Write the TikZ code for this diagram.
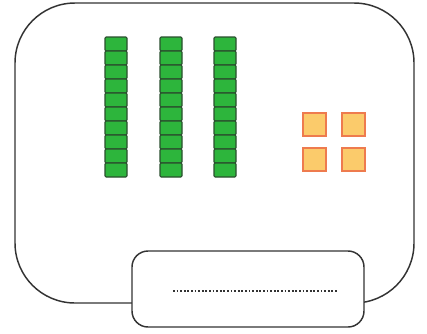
\documentclass[tikz,border=0pt]{standalone}
\usepackage{tikz}
\usepackage{xcolor}
\definecolor{slotgreen}{HTML}{2DB53C}
\definecolor{slotedge}{HTML}{2A4F2E}
\definecolor{padfill}{HTML}{FBCB6B}
\definecolor{padedge}{HTML}{EE7B4E}
\definecolor{caseedge}{HTML}{333333}
\begin{document}
\begin{tikzpicture}[x=0.75pt,y=-0.75pt]
		\tikzstyle{casing}=[draw=caseedge, line width=1.1pt]
		\tikzstyle{slot}=[draw=slotedge, fill=slotgreen, line width=0.8pt, rounded corners=0.8pt]
		\tikzstyle{pad}=[draw=padedge, fill=padfill, line width=0.9pt]
		\useasboundingbox (0,0) rectangle (427,333);
		\draw [casing, rounded corners=45] (15,3) rectangle (414,303);
		\draw [casing, fill=white, rounded corners=12] (132,251) rectangle (364,327);
		\draw [caseedge, line width=1.3pt, dash pattern=on 1.3pt off 1.4pt] (173,291) -- (338,291);
		\foreach \x in {105,160,214}
			\foreach \i in {0,...,9}
				\draw [slot] (\x,37+14*\i) rectangle (\x+22,51+14*\i);
		\foreach \x in {303,342}
			\foreach \y in {113,148}
				\draw [pad] (\x,\y) rectangle (\x+23,\y+23);
	\end{tikzpicture}
\end{document}
